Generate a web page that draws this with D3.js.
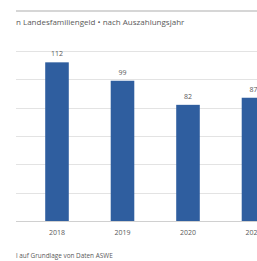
<!DOCTYPE html>
<html>
<head>
<meta charset="utf-8">
<script src="https://cdn.jsdelivr.net/npm/d3@7"></script>
<style>
  body { margin: 0; background: #fff; }
  text { font-family: "Open Sans", sans-serif; fill: #595959; }
</style>
</head>
<body>
<script>
// values per Auszahlungsjahr
var years = ["2018", "2019", "2020", "2021"];
var values = [112, 99, 82, 87];
var gridTicks = [0, 20, 40, 60, 80, 100, 120];

var width = 257, height = 261;

var svg = d3.select("body").append("svg")
    .attr("width", width)
    .attr("height", height);

var x = d3.scaleBand()
    .domain(years)
    .range([24.25, 24.25 + 4 * 65.5])
    .paddingInner(0.64)
    .paddingOuter(0.32);

var y = d3.scaleLinear()
    .domain([0, 120])
    .range([221, 51]);

// top border line
svg.append("line")
    .attr("x1", 16).attr("x2", width)
    .attr("y1", 11).attr("y2", 11)
    .attr("stroke", "#c8c8c8")
    .attr("stroke-width", 1.5);

svg.append("text")
    .attr("x", 16)
    .attr("y", 25)
    .style("font-size", "8px")
    .text("n Landesfamiliengeld \u2022 nach  Auszahlungsjahr");

// gridlines
svg.selectAll(".grid")
    .data(gridTicks)
    .enter().append("line")
    .attr("x1", 16).attr("x2", width)
    .attr("y1", function(d) { return Math.round(y(d)) + 0.5; })
    .attr("y2", function(d) { return Math.round(y(d)) + 0.5; })
    .attr("stroke", function(d) { return d === 0 ? "#d0d0d0" : "#e3e3e3"; })
    .attr("stroke-width", 1);

svg.selectAll(".bar")
    .data(values)
    .enter().append("rect")
    .attr("x", function(d, i) { return x(years[i]); })
    .attr("y", function(d) { return y(d); })
    .attr("width", x.bandwidth())
    .attr("height", function(d) { return y(0) - y(d); })
    .attr("fill", "#2f5e9f");

svg.selectAll(".lbl")
    .data(values)
    .enter().append("text")
    .attr("x", function(d, i) { return x(years[i]) + x.bandwidth() / 2; })
    .attr("y", function(d) { return y(d) - 6; })
    .attr("text-anchor", "middle")
    .style("font-size", "7px")
    .text(function(d) { return d; });

var xAxis = svg.append("g")
    .attr("transform", "translate(0,221)")
    .call(d3.axisBottom(x).tickSize(0).tickPadding(9));
xAxis.select(".domain").remove();
xAxis.selectAll("text")
    .style("font-family", "Open Sans, sans-serif")
    .style("font-size", "7px")
    .attr("fill", "#595959");

svg.append("text")
    .attr("x", 16)
    .attr("y", 258)
    .style("font-size", "6.4px")
    .text("l auf Grundlage von Daten ASWE");
</script>
</body>
</html>
